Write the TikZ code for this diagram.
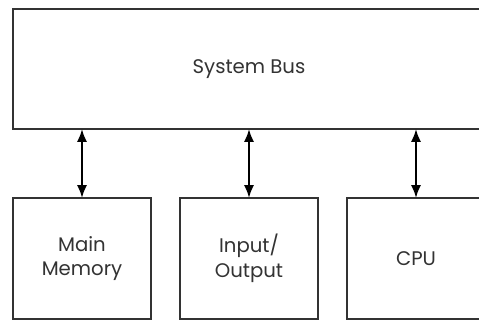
\documentclass[tikz,border=0pt]{standalone}
\usepackage{fontspec}
\setmainfont{Poppins}
\usepackage{tikz}
\usetikzlibrary{arrows.meta}
\usetikzlibrary{positioning}

\begin{document}
\begin{tikzpicture}
[
	unit/.style	= {rectangle, draw = black!80, line width = 0.05cm, fill = white, minimum width = 3.45cm, minimum height = 3.025cm, inner sep = 0cm, outer sep = 0cm, align = center, text = black!80, font = \fontsize{14}{17.5}\selectfont},
	bus/.style	= {unit, minimum width = 11.8cm, minimum height = 3cm},
	link/.style	= {{Latex[length = 0.32cm, width = 0.25cm]}-{Latex[length = 0.32cm, width = 0.25cm]}, line width = 0.05cm, black},
	node distance = 1.725cm and 0.725cm,
]

	\useasboundingbox (0,0) rectangle (11.975,-8.025);
	\clip (0,0) rectangle (11.975,-8.025);

	\node (bus) [bus, anchor = north west] at (0.325,-0.225) {System Bus};
	%
	\node (mem) [unit, anchor = north west] at (0.325,-4.95) {Main\\Memory};
	\node (io) [unit, right = of mem] {Input/\\Output};
	\node (cpu) [unit, right = of io] {CPU};

	\draw [link] (mem.north) -- (mem.north |- bus.south);
	\draw [link] (io.north) -- (io.north |- bus.south);
	\draw [link] (cpu.north) -- (cpu.north |- bus.south);

\end{tikzpicture}
\end{document}
